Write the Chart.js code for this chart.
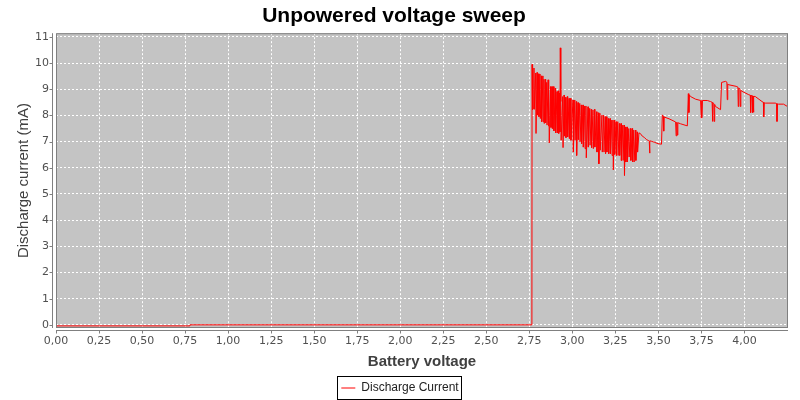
<!DOCTYPE html>
<html>
<head>
<meta charset="utf-8">
<title>Unpowered voltage sweep</title>
<script src="https://cdn.jsdelivr.net/npm/chart.js@4.4.1/dist/chart.umd.min.js"></script>
<style>
  html, body { margin: 0; padding: 0; background: #fff; }
</style>
</head>
<body>
<canvas id="chartPlace" width="800" height="400"></canvas>
<script>
// flat part before the cell wakes up
const baseV = [0, 0.775, 0.778, 2.765];
const baseI = [-0.04, -0.04, 0, 0];

// noisy sawtooth section, top then bottom of every spike
const sweepV = [2.766, 2.768, 2.770, 2.772, 2.777, 2.779, 2.787, 2.789, 2.795, 2.797,
  2.804, 2.806, 2.812, 2.814, 2.820, 2.822, 2.829, 2.831, 2.835, 2.837,
  2.843, 2.845, 2.851, 2.853, 2.859, 2.861, 2.864, 2.866, 2.874, 2.876,
  2.882, 2.884, 2.891, 2.893, 2.901, 2.903, 2.911, 2.913, 2.919, 2.921,
  2.926, 2.928, 2.930, 2.933, 2.935, 2.944, 2.946, 2.952, 2.954, 2.961,
  2.963, 2.971, 2.973, 2.981, 2.983, 2.990, 2.992, 3.004, 3.006, 3.014,
  3.016, 3.023, 3.025, 3.033, 3.035, 3.043, 3.045, 3.052, 3.054, 3.062,
  3.064, 3.072, 3.074, 3.079, 3.081, 3.091, 3.093, 3.101, 3.103, 3.110,
  3.112, 3.120, 3.122, 3.129, 3.131, 3.141, 3.143, 3.152, 3.154, 3.160,
  3.162, 3.172, 3.174, 3.182, 3.184, 3.191, 3.193, 3.199, 3.201, 3.209,
  3.211, 3.219, 3.221, 3.229, 3.231, 3.236, 3.238, 3.244, 3.246, 3.254,
  3.256, 3.264, 3.266, 3.273, 3.275, 3.283, 3.285, 3.293, 3.295, 3.301,
  3.303, 3.309, 3.311, 3.318, 3.320, 3.328, 3.330, 3.338, 3.340, 3.348,
  3.350, 3.357, 3.359, 3.367, 3.369, 3.377, 3.379, 3.387, 3.395, 3.406,
  3.420, 3.430, 3.439, 3.447, 3.449, 3.451, 3.461, 3.479, 3.498, 3.518];
const sweepI = [9.95, 8.21, 9.88, 8.27, 9.81, 8.23, 9.62, 7.31, 9.64, 8.01,
  9.59, 7.95, 9.58, 7.88, 9.51, 7.76, 9.51, 7.76, 9.38, 7.69,
  9.38, 7.72, 9.26, 7.63, 9.36, 7.59, 9.23, 6.95, 9.10, 7.54,
  9.10, 7.50, 9.10, 7.41, 9.04, 7.33, 8.91, 7.33, 8.94, 7.31,
  8.85, 7.37, 10.58, 8.53, 7.05, 8.72, 6.77, 8.78, 7.21, 8.69,
  7.15, 8.72, 7.18, 8.65, 7.12, 8.65, 7.05, 8.59, 6.60, 8.59,
  7.05, 8.53, 6.47, 8.49, 7.08, 8.46, 6.99, 8.40, 6.92, 8.40,
  6.79, 8.36, 6.73, 8.36, 6.38, 8.33, 6.79, 8.27, 6.86, 8.23,
  6.77, 8.21, 6.73, 8.23, 6.79, 8.14, 6.60, 8.10, 6.15, 8.08,
  6.67, 8.01, 6.60, 8.01, 6.60, 7.95, 6.54, 7.95, 6.60, 7.88,
  6.54, 7.88, 6.54, 7.82, 6.47, 7.82, 5.92, 7.82, 6.51, 7.76,
  6.47, 7.76, 6.47, 7.69, 6.47, 7.69, 6.28, 7.63, 6.28, 7.63,
  5.71, 7.56, 6.22, 7.56, 6.22, 7.50, 6.41, 7.50, 6.28, 7.50,
  6.22, 7.44, 6.22, 7.44, 6.28, 7.37, 6.60, 7.33, 7.31, 7.21,
  7.15, 7.08, 7.05, 7.01, 6.56, 7.03, 7.01, 6.97, 6.92, 6.90];

// steps above 3.5 V
const tailV = [3.523, 3.529, 3.531, 3.533, 3.562, 3.600, 3.603, 3.607, 3.610, 3.613,
  3.629, 3.668, 3.674, 3.677, 3.680, 3.687, 3.716, 3.745, 3.749, 3.751,
  3.753, 3.756, 3.784, 3.803, 3.812, 3.814, 3.817, 3.822, 3.824, 3.827,
  3.832, 3.861, 3.867, 3.890, 3.898, 3.900, 3.903, 3.909, 3.952, 3.962,
  3.964, 3.967, 3.974, 3.976, 3.979, 3.986, 4.025, 4.034, 4.036, 4.039,
  4.045, 4.047, 4.050, 4.052, 4.055, 4.063, 4.102, 4.110, 4.112, 4.115,
  4.121, 4.179, 4.187, 4.189, 4.192, 4.198, 4.227, 4.250];
const tailI = [8.02, 7.96, 7.40, 7.94, 7.87, 7.75, 7.22, 7.74, 7.25, 7.72,
  7.68, 7.60, 8.83, 8.11, 8.78, 8.72, 8.62, 8.57, 7.90, 8.57,
  7.92, 8.57, 8.57, 8.53, 8.50, 7.77, 8.48, 8.45, 7.77, 8.42,
  8.34, 8.22, 9.26, 9.30, 9.27, 8.60, 9.20, 9.17, 9.11, 9.08,
  8.34, 9.05, 9.00, 8.34, 8.96, 8.92, 8.79, 8.77, 8.11, 8.76,
  8.75, 8.11, 8.74, 8.12, 8.73, 8.72, 8.53, 8.50, 7.94, 8.48,
  8.47, 8.47, 8.45, 7.77, 8.44, 8.43, 8.43, 8.34];

const xTicks = [0, 0.25, 0.5, 0.75, 1, 1.25, 1.5, 1.75, 2, 2.25, 2.5, 2.75, 3, 3.25, 3.5, 3.75, 4];
const yTicks = [0, 1, 2, 3, 4, 5, 6, 7, 8, 9, 10, 11];

const voltage = baseV.concat(sweepV, tailV);
const current = baseI.concat(sweepI, tailI);

var points = [];
for (var i = 0; i < voltage.length; i++) {
  points.push({x: voltage[i], y: current[i]});
}

/* gray plot, offset axis lines, ticks and legend frame */
const plotFrame = {
  id: 'plotFrame',
  afterLayout(chart) {
    const lg = chart.legend;
    const dx = chart.width / 2 - (lg.left + lg.right) / 2;
    lg.left += dx;
    lg.right += dx;
  },
  beforeDraw(chart) {
    const {ctx, chartArea: a} = chart;
    ctx.save();
    ctx.fillStyle = '#ffffff';
    ctx.fillRect(0, 0, chart.width, chart.height);
    ctx.fillStyle = '#c4c4c4';
    ctx.fillRect(a.left, a.top, a.right - a.left, a.bottom - a.top);
    ctx.restore();
  },
  afterDraw(chart) {
    const {ctx, chartArea: a, scales} = chart;
    ctx.save();
    ctx.lineWidth = 1;
    ctx.strokeStyle = '#808080';
    ctx.strokeRect(a.left + 0.5, a.top + 0.5, a.right - a.left - 1, a.bottom - a.top - 1);
    const ax = a.left - 3.5;
    const ay = a.bottom + 2.5;
    ctx.beginPath();
    ctx.moveTo(ax, a.top);
    ctx.lineTo(ax, a.bottom);
    ctx.moveTo(a.left, ay);
    ctx.lineTo(a.right, ay);
    scales.y.ticks.forEach(t => {
      const y = Math.round(scales.y.getPixelForValue(t.value)) + 0.5;
      ctx.moveTo(ax - 3, y);
      ctx.lineTo(ax, y);
    });
    scales.x.ticks.forEach(t => {
      const x = Math.round(scales.x.getPixelForValue(t.value)) + 0.5;
      ctx.moveTo(x, ay);
      ctx.lineTo(x, ay + 3);
    });
    ctx.stroke();
    const hb = chart.legend.legendHitBoxes[0];
    if (hb) {
      ctx.strokeStyle = '#000000';
      ctx.strokeRect(Math.round(hb.left) - 3.5, Math.round(hb.top) - 5.5, Math.round(hb.width) + 7, Math.round(hb.height) + 11);
    }
    ctx.restore();
  }
};

function createChart() {
  var chartPlace = document.getElementById('chartPlace').getContext('2d');
  const dataSweep = {
    datasets: [{
      label: 'Discharge Current',
      data: points,
      borderColor: '#ff0000',
      backgroundColor: '#ff0000',
      borderWidth: 1,
      pointRadius: 0,
      tension: 0,
      fill: false
    }]
  };
  const chartSweep = new Chart(chartPlace, {
    type: 'line',
    data: dataSweep,
    plugins: [plotFrame],
    options: {
      responsive: false,
      animation: false,
      layout: { padding: { left: 0, right: 12, top: 0, bottom: -4 } },
      plugins: {
        title: {
          display: true,
          text: 'Unpowered voltage sweep',
          color: '#000000',
          font: { family: "'Liberation Sans', Arial, sans-serif", size: 21, weight: 'bold' },
          padding: { top: 4, bottom: 4 }
        },
        legend: {
          position: 'bottom',
          labels: {
            usePointStyle: true,
            pointStyle: 'line',
            pointStyleWidth: 14,
            color: '#222222',
            font: { family: "'Liberation Sans', Arial, sans-serif", size: 12 }
          }
        },
        tooltip: { enabled: false }
      },
      scales: {
        x: {
          type: 'linear',
          min: 0,
          max: 4.253,
          afterFit: s => { s.height = 44; },
          afterBuildTicks: s => { s.ticks = xTicks.map(v => ({value: v})); },
          grid: { color: '#ffffff', lineWidth: 1, drawTicks: false },
          border: { display: false, dash: [2, 2] },
          ticks: {
            autoSkip: false,
            maxRotation: 0,
            padding: 7,
            color: '#505050',
            font: { family: "'DejaVu Sans', sans-serif", size: 11 },
            callback: v => v.toFixed(2).replace('.', ',')
          },
          title: {
            display: true,
            text: 'Battery voltage',
            color: '#404040',
            font: { family: "'Liberation Sans', Arial, sans-serif", size: 15, weight: 'bold' },
            padding: { top: 0, bottom: 1.5 }
          }
        },
        y: {
          min: -0.12,
          max: 11.14,
          afterFit: s => { s.width = 56; },
          afterBuildTicks: s => { s.ticks = yTicks.map(v => ({value: v})); },
          grid: { color: '#ffffff', lineWidth: 1, drawTicks: false },
          border: { display: false, dash: [2, 2] },
          ticks: {
            padding: 7,
            color: '#505050',
            font: { family: "'DejaVu Sans', sans-serif", size: 11 },
            callback: v => v
          },
          title: {
            display: true,
            text: 'Discharge current (mA)',
            color: '#404040',
            font: { family: "'Liberation Sans', Arial, sans-serif", size: 15 },
            padding: { top: 15, bottom: 0 }
          }
        }
      }
    }
  });
}

createChart();
</script>
</body>
</html>
